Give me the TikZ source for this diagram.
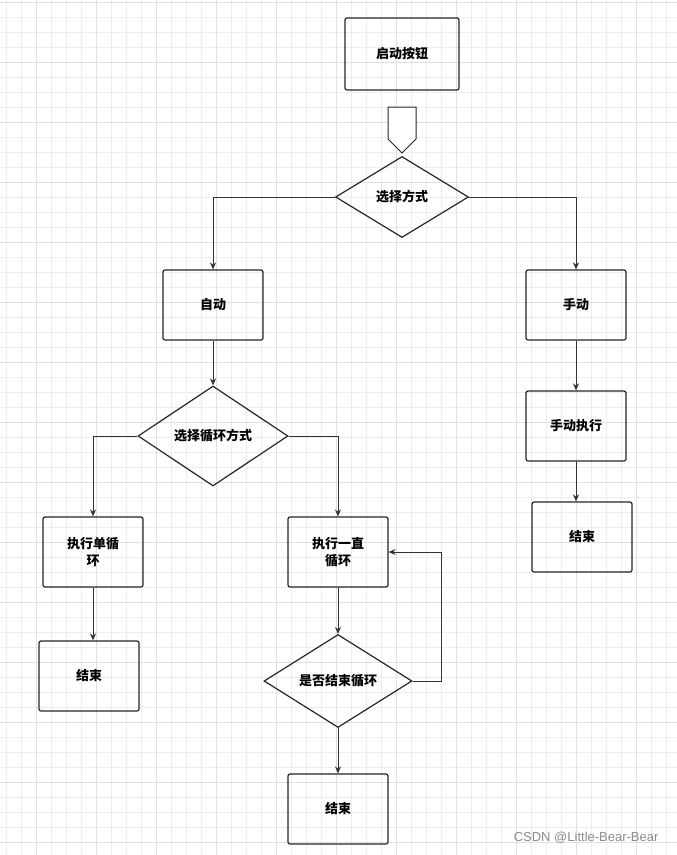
\documentclass[tikz,border=0pt]{standalone}
\usepackage{fontspec}
\newfontfamily\cjk{Noto Sans CJK SC}
\usetikzlibrary{shapes.geometric,shapes.arrows,arrows.meta}
\begin{document}
\begin{tikzpicture}[x=1pt,y=-1pt,
  box/.style={draw=black!85,line width=1.2pt,rounded corners=2pt,minimum width=100pt,minimum height=70pt,inner sep=0pt,align=center,font=\cjk\bfseries\fontsize{13}{17}\selectfont},
  dia/.style={draw=black!85,line width=1.2pt,diamond,aspect=#1,inner sep=0pt,font=\cjk\bfseries\fontsize{13}{17}\selectfont},
  link/.style={draw=black!80,line width=1pt,-{Stealth[length=7pt,width=6pt]}}]
\useasboundingbox (0,0) rectangle (677,855);
\fill[white] (0,0) rectangle (677,855);
\foreach \x in {6,21,...,677} \draw[black!7,line width=0.8pt] (\x,0) -- (\x,855);
\foreach \y in {2,17,...,855} \draw[black!7,line width=0.8pt] (0,\y) -- (677,\y);
\foreach \x in {36,96,...,677} \draw[black!12,line width=0.8pt] (\x,0) -- (\x,855);
\foreach \y in {2,62,...,855} \draw[black!12,line width=0.8pt] (0,\y) -- (677,\y);

\node[box,minimum width=114pt,minimum height=72pt] (start) at (402,54) {启动按钮};
\node[single arrow,draw=black!85,line width=1pt,fill=white,shape border rotate=270,minimum width=28pt,single arrow head extend=0pt,minimum height=46pt,inner sep=3pt] (harrow) at (402,123) {};
\node[dia=1.64,minimum width=133pt,minimum height=81pt] (mode) at (402,197) {选择方式};
\node[box] (auto) at (213,305) {自动};
\node[box] (manual) at (576,305) {手动};
\node[dia=1.5,minimum width=150pt,minimum height=100pt] (loop) at (213,436) {选择循环方式};
\node[box] (single) at (93,552) {执行单循\\环};
\node[box] (always) at (338,552) {执行一直\\循环};
\node[box] (end1) at (89,676) {结束};
\node[dia=1.6,minimum width=148pt,minimum height=93pt] (check) at (338,681) {是否结束循环};
\node[box] (end2) at (338,809) {结束};
\node[box] (mexec) at (576,426) {手动执行};
\node[box] (end3) at (582,537) {结束};
\coordinate (back) at (441,681);

\draw[link] (mode.west) -- (213,197) -- (auto.north);
\draw[link] (mode.east) -- (576,197) -- (manual.north);
\draw[link] (auto) -- (loop);
\draw[link] (loop.west) -- (93,436) -- (single.north);
\draw[link] (loop.east) -- (338,436) -- (always.north);
\draw[link] (single) -- (end1.north -| single);
\draw[link] (always) -- (check);
\draw[link] (check) -- (end2);
\draw[link] (check.east) -- (back) |- (always.east);
\draw[link] (manual) -- (mexec);
\draw[link] (mexec) -- (end3.north -| mexec);

\node[anchor=east,text=black!45,font=\fontspec{Liberation Sans}\fontsize{13}{15}\selectfont] (wm) at (662,838) {CSDN @Little-Bear-Bear};
\end{tikzpicture}
\end{document}
